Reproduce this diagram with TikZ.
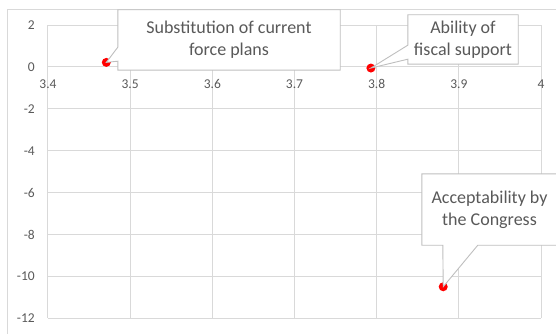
\documentclass[tikz,border=0pt]{standalone}
\usepackage{fontspec}
\setmainfont{Carlito}
\definecolor{axgray}{RGB}{89,89,89}
\definecolor{gridgray}{RGB}{217,217,217}
\definecolor{callgray}{RGB}{191,191,191}
\definecolor{ptred}{RGB}{255,0,0}
\usetikzlibrary{calc}
\pgfdeclarelayer{front}
\pgfsetlayers{main,front}

\begin{document}
\begin{tikzpicture}[
  x=1pt,y=1pt,
  gridline/.style={draw=gridgray,line width=1pt},
  ticklabel/.style={font=\fontsize{13.5}{16}\selectfont,text=axgray,inner sep=0pt},
  callout/.style={draw=callgray,fill=white,line width=0.9pt,line join=miter},
  callouttext/.style={font=\fontsize{18}{22}\selectfont,text=axgray,align=center,inner sep=0pt},
  dot/.style={circle,fill=ptred,inner sep=0pt,minimum size=9pt}
]
  \useasboundingbox (0,0) rectangle (556,-334);
  % chart frame
  \draw[gridgray,line width=1pt] (7,-334) -- (7,-10) -- (556,-10);
  % plot area in data units
  \begin{scope}[x=821.7pt,y=20.93pt,shift={(-2745.8pt,-67pt)}]
    \foreach \gy in {2,0,-2,-4,-6,-8,-10,-12}{
      \draw[gridline] (3.4,\gy) -- (4,\gy);
      \node[ticklabel,anchor=east,xshift=-13pt] (ylab\gy) at (3.4,\gy) {\gy};
    }
    \foreach \gx in {3.4,3.5,3.6,3.7,3.8,3.9,4}{
      \draw[gridline] (\gx,2) -- (\gx,-12);
      \node[ticklabel,yshift=-17pt] (xlab\gx) at (\gx,0) {\gx};
    }
    % data points
    \coordinate (p1) at (3.471,0.22);
    \coordinate (p2) at (3.793,-0.05);
    \coordinate (p3) at (3.881,-10.5);
  \end{scope}
  \node[dot] (d1) at (p1) {};
  \node[dot] (d2) at (p2) {};
  \node[dot] (d3) at (p3) {};
  % callouts
  \begin{pgfonlayer}{front}
    \node[callouttext,minimum width=222pt,minimum height=60pt] (c1) at (229,-40) {Substitution of current\\force plans};
    \node[callouttext,minimum width=110pt,minimum height=49pt] (c2) at (463,-39.5) {Ability of\\fiscal support};
    \node[callouttext,minimum width=135pt,minimum height=71pt] (c3) at (489.5,-209.5) {Acceptability by\\the Congress};
  \end{pgfonlayer}
  \draw[callout] (c1.south west) -- (c1.south east) -- (c1.north east) -- (c1.north west)
    -- ($(c1.south west)+(0,23)$) -- (p1) -- ($(c1.south west)+(0,9)$) -- cycle;
  \draw[callout] (c2.south west) -- (c2.south east) -- (c2.north east) -- (c2.north west)
    -- ($(c2.south west)+(0,19)$) -- (p2) -- ($(c2.south west)+(0,5)$) -- cycle;
  \draw[callout] (c3.south west) -- ($(c3.south west)+(21,0)$) -- (p3)
    -- ($(c3.south west)+(56,0)$) -- (c3.south east) -- (c3.north east) -- (c3.north west) -- cycle;
\end{tikzpicture}
\end{document}
